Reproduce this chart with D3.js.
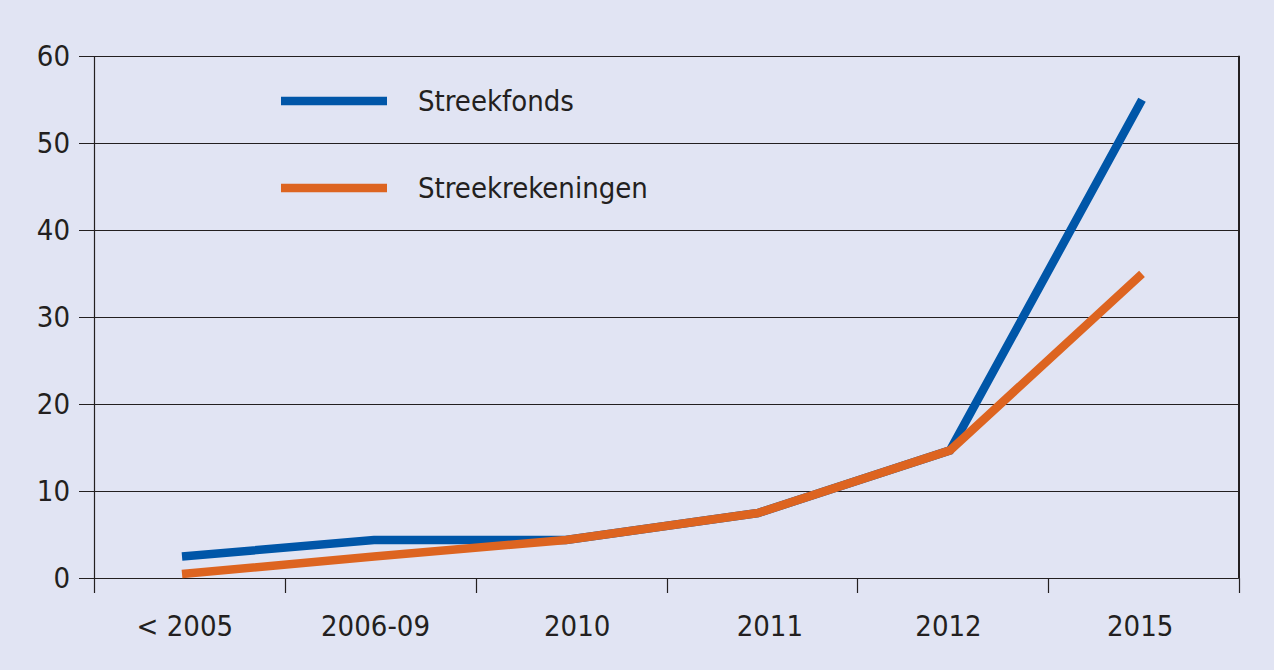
<!DOCTYPE html>
<html><head><meta charset="utf-8">
<script src="https://cdn.jsdelivr.net/npm/d3@7"></script>
<style>
html,body{margin:0;padding:0;background:#e1e4f3;}
svg{display:block;}
text{font-family:"Liberation Sans Narrow","DejaVu Sans Condensed",sans-serif;fill:#231f20;}
</style></head>
<body>
<svg id="c" width="1274" height="670"></svg>
<script>
const categories = ["< 2005", "2006-09", "2010", "2011", "2012", "2015"];
const streekfonds = [2.5, 4.4, 4.4, 7.5, 14.7, 55];
const streekrekeningen = [0.5, 2.5, 4.4, 7.5, 14.7, 35];
const yTicks = [0, 10, 20, 30, 40, 50, 60];
const seriesNames = ["Streekfonds", "Streekrekeningen"];
const seriesColors = ["#0056a8", "#dd6420"];
const labelNudge = [-5, -5, 6, 8, -4, -3];

const svg = d3.select("#c");
const pLeft = 94.5, pRight = 1238.5, pTop = 56.3, pBottom = 578.3;
const y = d3.scaleLinear().domain([0, 60]).range([pBottom, pTop]);
const xBand = d3.scaleBand().domain(categories).range([pLeft, pRight]);
const xPt = d3.scalePoint().domain(categories).range([182, 1142]);

// gridlines
svg.append("g").selectAll("line").data(yTicks).join("line")
  .attr("x1", 79).attr("x2", pRight)
  .attr("y1", d => Math.round(y(d)) + 0.5).attr("y2", d => Math.round(y(d)) + 0.5)
  .attr("stroke", "#231f20").attr("stroke-width", 1.2);

// y labels
svg.append("g").selectAll("text").data(yTicks).join("text")
  .attr("x", 70).attr("y", d => y(d) + 10)
  .attr("text-anchor", "end").attr("font-size", 29)
  .text(d => d);

// y axis line
svg.append("line").attr("x1", pLeft).attr("x2", pLeft).attr("y1", pTop).attr("y2", 593)
  .attr("stroke", "#231f20").attr("stroke-width", 1.2);
// right border
svg.append("line").attr("x1", 1239).attr("x2", 1239).attr("y1", pTop - 0.5).attr("y2", pBottom + 0.5)
  .attr("stroke", "#231f20").attr("stroke-width", 2);

// x ticks at band boundaries
const bounds = categories.map(c => xBand(c)).concat([pRight]);
svg.append("g").selectAll("line").data(bounds.slice(1)).join("line")
  .attr("x1", d => Math.round(d) + 0.5).attr("x2", d => Math.round(d) + 0.5)
  .attr("y1", pBottom).attr("y2", 593)
  .attr("stroke", "#231f20").attr("stroke-width", 1.2);

// x labels
svg.append("g").selectAll("text").data(categories).join("text")
  .attr("x", (d, i) => xBand(d) + xBand.bandwidth() / 2 + labelNudge[i])
  .attr("y", 636).attr("text-anchor", "middle").attr("font-size", 29)
  .text(d => d);

// lines
const line = d3.line().x((d, i) => xPt(categories[i])).y(d => y(d));
[streekfonds, streekrekeningen].forEach((s, i) => {
  svg.append("path").datum(s).attr("d", line)
    .attr("fill", "none").attr("stroke", seriesColors[i]).attr("stroke-width", 8.5)
    .attr("stroke-linejoin", "miter");
});

// legend
const legY = [101, 188];
seriesNames.forEach((n, i) => {
  svg.append("line").attr("x1", 281).attr("x2", 387).attr("y1", legY[i]).attr("y2", legY[i])
    .attr("stroke", seriesColors[i]).attr("stroke-width", 8.5);
  svg.append("text").attr("x", 418).attr("y", legY[i] + 10).attr("font-size", 29).text(n);
});
</script>
</body></html>
